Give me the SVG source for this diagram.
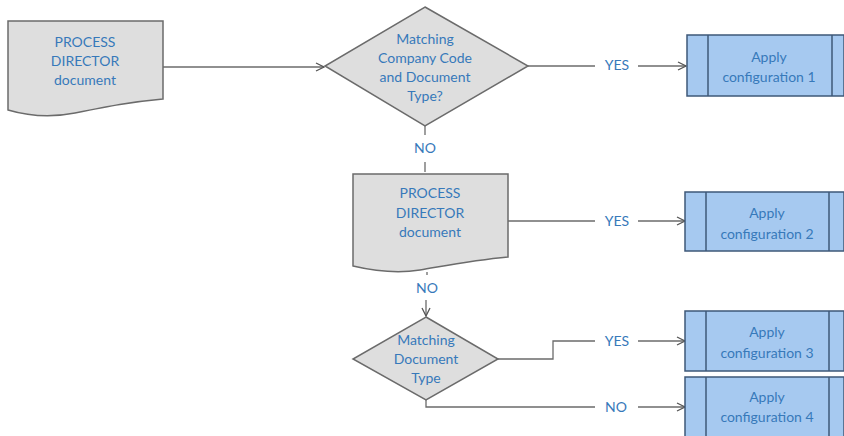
<svg xmlns="http://www.w3.org/2000/svg" width="844" height="436" viewBox="0 0 844 436">
<style>
.doc{fill:#dedede;stroke:#6b6b6b;stroke-width:1.5}
.dia{fill:#dedede;stroke:#6b6b6b;stroke-width:1.5}
.box{fill:#a6c9f0;stroke:#3e5878;stroke-width:1.5}
.div{stroke:#3e5878;stroke-width:1.5}
.t{font-family:Lato,"Open Sans",sans-serif;font-size:14px;fill:#3779ba;text-anchor:middle}
.c{fill:none;stroke:#6b6b6b;stroke-width:1.3}
</style>
<defs>
<marker id="a" viewBox="0 0 10 10" refX="9" refY="5" markerWidth="10" markerHeight="10" markerUnits="userSpaceOnUse" orient="auto">
<path d="M1,1 L9,5 L1,9" fill="none" stroke="#555" stroke-width="1.3"/>
</marker>
</defs>
<rect width="844" height="436" fill="#ffffff"/>
<g id="connectors">
<path class="c" d="M163,67 H324" marker-end="url(#a)"/>
<path class="c" d="M528,66 H595"/>
<path class="c" d="M638,66 H686" marker-end="url(#a)"/>
<path class="c" d="M425,126 V135"/>
<path class="c" d="M425,162 V172"/>
<path class="c" d="M508,221 H595"/>
<path class="c" d="M638,221 H685" marker-end="url(#a)"/>
<path class="c" d="M427,272 V275"/>
<path class="c" d="M426,300 V316" marker-end="url(#a)"/>
<path class="c" d="M498,359 H553 V341 H595"/>
<path class="c" d="M638,341 H685" marker-end="url(#a)"/>
<path class="c" d="M426,400 V407 H595"/>
<path class="c" d="M638,407 H685" marker-end="url(#a)"/>
<text class="t" x="617" y="70">YES</text>
<text class="t" x="425" y="153">NO</text>
<text class="t" x="617" y="226">YES</text>
<text class="t" x="427" y="293">NO</text>
<text class="t" x="617" y="346">YES</text>
<text class="t" x="616" y="412">NO</text>
</g>
<g id="doc1">
<path class="doc" d="M8,21 H163 V99 C130,102 110,106 75,113 C50,118 25,115 8,110 Z"/>
<text class="t" x="85" y="47">PROCESS</text>
<text class="t" x="85" y="66">DIRECTOR</text>
<text class="t" x="85" y="85">document</text>
</g>
<g id="decision1">
<path class="dia" d="M425,7 L528,66 L425,126 L325,66 Z"/>
<text class="t" x="425" y="44">Matching</text>
<text class="t" x="425" y="63">Company Code</text>
<text class="t" x="425" y="82">and Document</text>
<text class="t" x="425" y="101">Type?</text>
</g>
<g id="doc2">
<path class="doc" d="M353,174 H508 V257 C475,260 455,264 420,270 C395,274 370,270 353,266 Z"/>
<text class="t" x="430" y="198">PROCESS</text>
<text class="t" x="430" y="218">DIRECTOR</text>
<text class="t" x="430" y="237">document</text>
</g>
<g id="decision2">
<path class="dia" d="M426,317 L498,359 L426,400 L353,359 Z"/>
<text class="t" x="426" y="345">Matching</text>
<text class="t" x="426" y="364">Document</text>
<text class="t" x="426" y="383">Type</text>
</g>
<g id="config1">
<rect class="box" x="687" y="35" width="157" height="61"/>
<line class="div" x1="708" y1="35" x2="708" y2="96"/>
<line class="div" x1="832" y1="35" x2="832" y2="96"/>
<text class="t" x="769" y="62">Apply</text>
<text class="t" x="769" y="82">configuration 1</text>
</g>
<g id="config2">
<rect class="box" x="685" y="192" width="159" height="59"/>
<line class="div" x1="706" y1="192" x2="706" y2="251"/>
<line class="div" x1="829" y1="192" x2="829" y2="251"/>
<text class="t" x="767" y="218">Apply</text>
<text class="t" x="767" y="239">configuration 2</text>
</g>
<g id="config3">
<rect class="box" x="685" y="311" width="159" height="60"/>
<line class="div" x1="706" y1="311" x2="706" y2="371"/>
<line class="div" x1="829" y1="311" x2="829" y2="371"/>
<text class="t" x="767" y="337">Apply</text>
<text class="t" x="767" y="358">configuration 3</text>
</g>
<g id="config4">
<rect class="box" x="685" y="377" width="159" height="65"/>
<line class="div" x1="706" y1="377" x2="706" y2="442"/>
<line class="div" x1="829" y1="377" x2="829" y2="442"/>
<text class="t" x="767" y="402">Apply</text>
<text class="t" x="767" y="422">configuration 4</text>
</g>
</svg>
